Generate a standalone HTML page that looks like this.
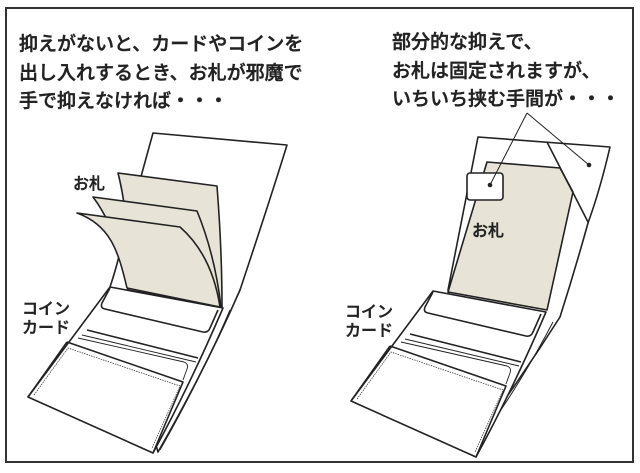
<!DOCTYPE html>
<html><head><meta charset="utf-8"><style>
html,body{margin:0;padding:0;background:#fff;}
body{width:640px;height:473px;overflow:hidden;position:relative;font-family:"Liberation Sans","Noto Sans CJK JP",sans-serif;}
svg{position:absolute;left:0;top:0;}
</style></head><body>
<svg width="640" height="473" viewBox="0 0 640 473" xmlns="http://www.w3.org/2000/svg" font-family="Liberation Sans, Noto Sans CJK JP, sans-serif">
<defs>
<g id="lower">
<path d="M110,287 L223,308 Q190,385 153,453 L28,397 Z"/>
<path d="M110,288 L102,303 Q100,308 105,309 L203,332 Q208,333 210,328 L218,310" fill="none"/>
<path d="M87,330 L198,358" fill="none"/>
<path d="M82,335 L196,362" fill="none" stroke-width="0.9"/>
<path d="M78,338 L184,362 Q189,364 187,369 L183,380" fill="none" stroke-width="0.9"/>
<path d="M67,342 L183,382 L153,453" fill="none"/>
<path d="M67,342 L28,397" fill="none"/>
<path d="M34,395 L68,348 L180,386 L152,448" fill="none" stroke-width="0.7" stroke-dasharray="1.5 1"/>
</g>
</defs>
<rect x="6" y="8" width="627" height="454" fill="#fff" stroke="#333" stroke-width="2"/>
<g font-size="19" fill="#222" stroke="#222" stroke-width="0.45" font-weight="500">
<text x="19" y="50">抑えがないと、カードやコインを</text>
<text x="19" y="79">出し入れするとき、お札が邪魔で</text>
<text x="19" y="107">手で抑えなければ・・・</text>
<text x="392" y="48">部分的な抑えで、</text>
<text x="392" y="77">お札は固定されますが、</text>
<text x="392" y="105">いちいち挟む手間が・・・</text>
</g>
<g stroke="#222" stroke-width="1.6" stroke-linejoin="round" fill="#fff">
<!-- LEFT wallet back panel -->
<path d="M153,133 L287,145 Q270,200 240,290 Q205,370 158,452 L110,287 Q115,272 118,260 Z"/>
<path d="M230,310 Q200,380 160,450" fill="none" stroke-width="1"/>
<!-- bills -->
<path d="M118,173 L217,186 Q222,250 222,307 L128,290 Q130,220 118,173 Z" fill="#e8e3d7"/>
<path d="M93,197 L197,211 Q215,255 221,307 L128,290 Q118,230 93,197 Z" fill="#e8e3d7"/>
<path d="M77,213 L180,227 Q212,255 220,307 L127,288 C118,250 110,225 77,213 Z" fill="#e8e3d7"/>
<use href="#lower"/>

<!-- RIGHT wallet back panel -->
<path d="M478,137 L610,147 Q600,190 588,223 Q575,270 560,317 Q520,380 477,438 L448,290 Z"/>
<path d="M553,322 Q520,385 480,440" fill="none" stroke-width="1"/>
<path d="M487,162 L560,168 L573,192 Q560,250 547,310 L448,292 Z" fill="#e8e3d7"/>
<path d="M547,142 L588,222" fill="none"/>
<rect x="467" y="173" width="36" height="27" rx="3" fill="#fff"/>
<use href="#lower" transform="translate(323,4)"/>
</g>
<!-- leader lines -->
<g stroke="#222" stroke-width="1" fill="none">
<path d="M527,113 L490,185 M527,113 L589,165"/>
</g>
<circle cx="490" cy="185" r="2.3" fill="#222"/>
<circle cx="589" cy="165" r="2.3" fill="#222"/>
<g font-size="16" fill="#222" stroke="#222" stroke-width="0.4" font-weight="500">
<text x="73" y="189">お札</text>
<text x="22" y="314">コイン</text>
<text x="22" y="333">カード</text>
<text x="472" y="236">お札</text>
<text x="345" y="317">コイン</text>
<text x="345" y="336">カード</text>
</g>
</svg>
</body></html>
